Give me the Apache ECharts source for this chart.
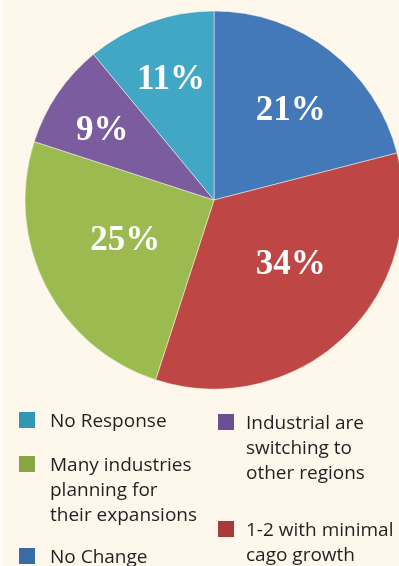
<!DOCTYPE html>
<html>
<head>
<meta charset="utf-8">
<script src="https://cdn.jsdelivr.net/npm/echarts@6/dist/echarts.min.js"></script>
<style>
  html, body { margin: 0; padding: 0; background: #fdf7ec; }
  #wrap { position: relative; width: 399px; height: 566px; }
  #chart { width: 399px; height: 566px; }
  #wrap::before {
    content: ''; position: absolute; left: 0; top: 0; width: 3px; height: 100%;
    background: #fffcf7; z-index: 1;
  }
</style>
</head>
<body>
<div id="wrap"><div id="chart"></div></div>
<script>
// Survey answers, clockwise from 12 o'clock
const categories = [
  'No Change',
  '1-2 with minimal\ncago growth',
  'Many industries\nplanning for\ntheir expansions',
  'Industrial are\nswitching to\nother regions',
  'No Response'
];
const shares = [21, 34, 25, 9, 11];

// Styling
const sliceColors = ['#4479b9', '#be4644', '#9bbb50', '#7b5c9f', '#41a7c4'];
const keyColors = ['#3a6aa8', '#a83b39', '#88a646', '#6b4f92', '#3197b2'];
// nudges of the percentage labels away from the mid-radius point
const labelShift = [[17, -12], [10, -6], [-2, -3], [-31, -14], [-10, -28]];

// Key placement: which category, icon left, icon top, gap before text
const keySlots = [
  { idx: 4, left: 19, iconTop: 412, gap: 10 },
  { idx: 2, left: 19, iconTop: 456, gap: 10 },
  { idx: 0, left: 19, iconTop: 548, gap: 10 },
  { idx: 3, left: 218, iconTop: 414, gap: 7 },
  { idx: 1, left: 218, iconTop: 521, gap: 7 }
];

const ICON = 16;
const LINE = 25;
const DROP = 2; // first text line sits this much below the swatch centre

const legends = keySlots.map(function (s) {
  const name = categories[s.idx];
  const lines = name.split('\n');
  // a spacer line on top keeps the first text line level with the swatch
  const spacer = LINE * (lines.length - 1) + 2 * DROP;
  const blockH = spacer + LINE * lines.length;
  const textTop = ICON / 2 - blockH / 2;
  const text = '{s| }\n' + lines.map(function (l) { return '{t|' + l + '}'; }).join('\n');
  return {
    orient: 'vertical',
    left: s.left,
    top: s.iconTop + Math.min(0, textTop),
    padding: 0,
    itemWidth: ICON,
    itemHeight: ICON,
    icon: 'rect',
    selectedMode: false,
    itemStyle: { borderWidth: 0 },
    formatter: function () { return text; },
    textStyle: {
      rich: {
        s: { fontSize: 1, lineHeight: spacer, height: spacer },
        t: {
          fontFamily: 'Open Sans',
          fontSize: 19,
          color: '#231f20',
          lineHeight: LINE,
          padding: [0, 0, 0, s.gap]
        }
      }
    },
    data: [{ name: name, itemStyle: { color: keyColors[s.idx], borderWidth: 0 } }]
  };
});

const chart = echarts.init(document.getElementById('chart'), null, { renderer: 'canvas' });
chart.setOption({
  backgroundColor: '#fdf7ec',
  animation: false,
  legend: legends,
  series: [{
    type: 'pie',
    center: [214, 200],
    radius: 189,
    startAngle: 90,
    clockwise: true,
    avoidLabelOverlap: false,
    itemStyle: { borderColor: '#fdf7ec', borderWidth: 0.5 },
    label: {
      show: true,
      position: 'inside',
      formatter: '{c}%',
      color: '#ffffff',
      fontFamily: 'Liberation Serif',
      fontWeight: 'bold',
      fontSize: 35
    },
    labelLine: { show: false },
    labelLayout: function (p) {
      const s = labelShift[p.dataIndex];
      return { dx: s[0], dy: s[1] };
    },
    emphasis: { disabled: true },
    data: categories.map(function (c, i) {
      return { name: c, value: shares[i], itemStyle: { color: sliceColors[i] } };
    })
  }]
});
</script>
</body>
</html>
